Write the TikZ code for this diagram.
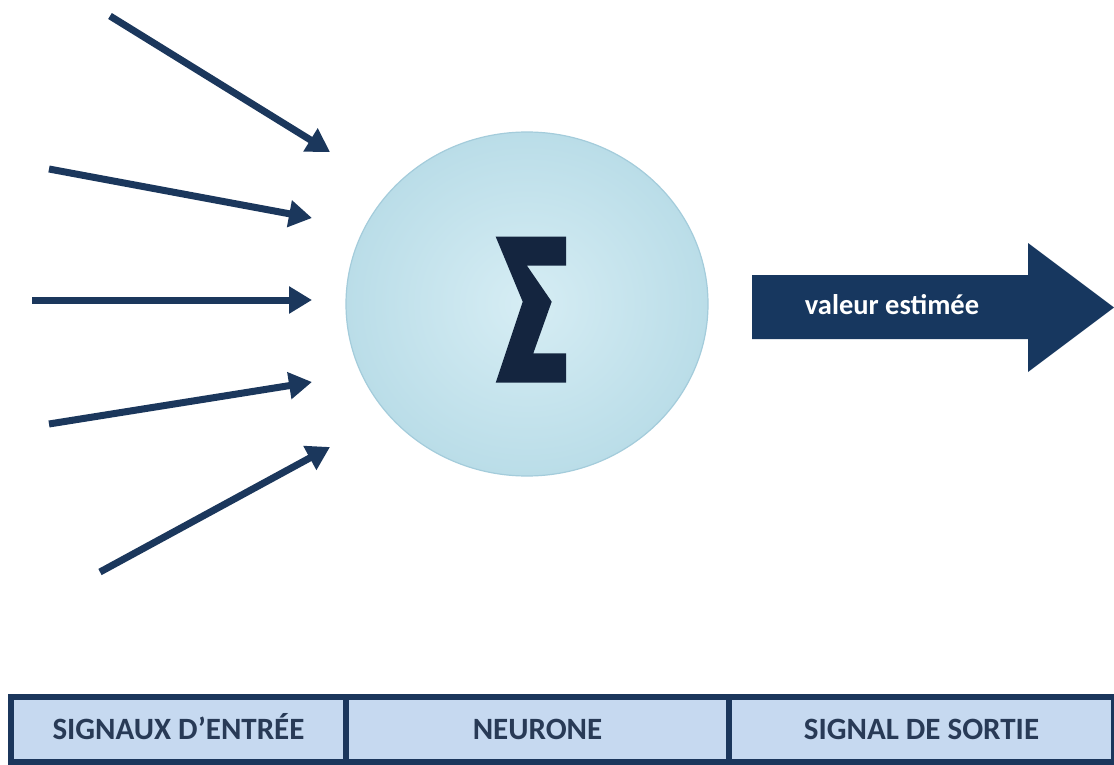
\documentclass[tikz,border=0pt]{standalone}
\usepackage{fontspec}
\setmainfont{Carlito}
\usetikzlibrary{arrows.meta,shapes.geometric}
\definecolor{arrowc}{HTML}{1B375C}
\definecolor{sigmac}{HTML}{14253F}
\definecolor{bigarrow}{HTML}{17375F}
\definecolor{tablefill}{HTML}{C6D9F0}
\definecolor{tableborder}{HTML}{1B365C}
\definecolor{tabletext}{HTML}{283A56}
\definecolor{circin}{HTML}{D6EDF4}
\definecolor{circout}{HTML}{BADDE8}
\definecolor{circedge}{HTML}{A4CCDB}
\begin{document}
\begin{tikzpicture}[x=1pt,y=-1pt,
  inarrow/.style={draw=arrowc,line width=7pt,-{Triangle[length=23pt,width=26pt]}},
  cell/.style={draw=tableborder,line width=6pt,fill=tablefill,text=tabletext,
    font=\bfseries\fontsize{31}{34}\selectfont,inner sep=0pt,
    text height=20pt,text depth=0pt,minimum height=65pt},
  outtext/.style={text=white,font=\bfseries\fontsize{28.5}{32}\selectfont,inner sep=0pt,anchor=base}
]
\useasboundingbox (0,0) rectangle (1114,765);
\fill[white] (0,0) rectangle (1114,765);

% neuron
\node[ellipse,minimum width=362pt,minimum height=344pt,inner sep=0pt,
  inner color=circin,outer color=circout,draw=circedge,line width=1.2pt] (neuron) at (527,304) {};
% sigma
\fill[sigmac] (495.7,236.7) -- (566,236.7) -- (566,265.7) -- (527,265.7)
  -- (551.7,301.7) -- (533.3,353.3) -- (566,353.3) -- (566,382.7)
  -- (495.7,382.7) -- (522.7,301.7) -- cycle;

% input arrows
\coordinate (t1) at (110,16);  \coordinate (h1) at (330,152);
\coordinate (t2) at (49,169);  \coordinate (h2) at (312,218);
\coordinate (t3) at (32,300);  \coordinate (h3) at (312,300);
\coordinate (t4) at (49,424);  \coordinate (h4) at (312,382);
\coordinate (t5) at (100,572); \coordinate (h5) at (330,447);
\foreach \i in {1,...,5} \draw[inarrow] (t\i) -- (h\i);

% output arrow
\fill[bigarrow] (752,275) -- (1028,275) -- (1028,243) -- (1114,307.5)
  -- (1028,372) -- (1028,339) -- (752,339) -- cycle;
\node[outtext] (out) at (892,314) {valeur estimée};

% table
\node[cell,minimum width=335pt] (c1) at (178.5,729.5) {SIGNAUX D’ENTRÉE};
\node[cell,minimum width=383pt] (c2) at (537.5,729.5) {NEURONE};
\node[cell,minimum width=385pt] (c3) at (921.5,729.5) {SIGNAL DE SORTIE};
\end{tikzpicture}
\end{document}
